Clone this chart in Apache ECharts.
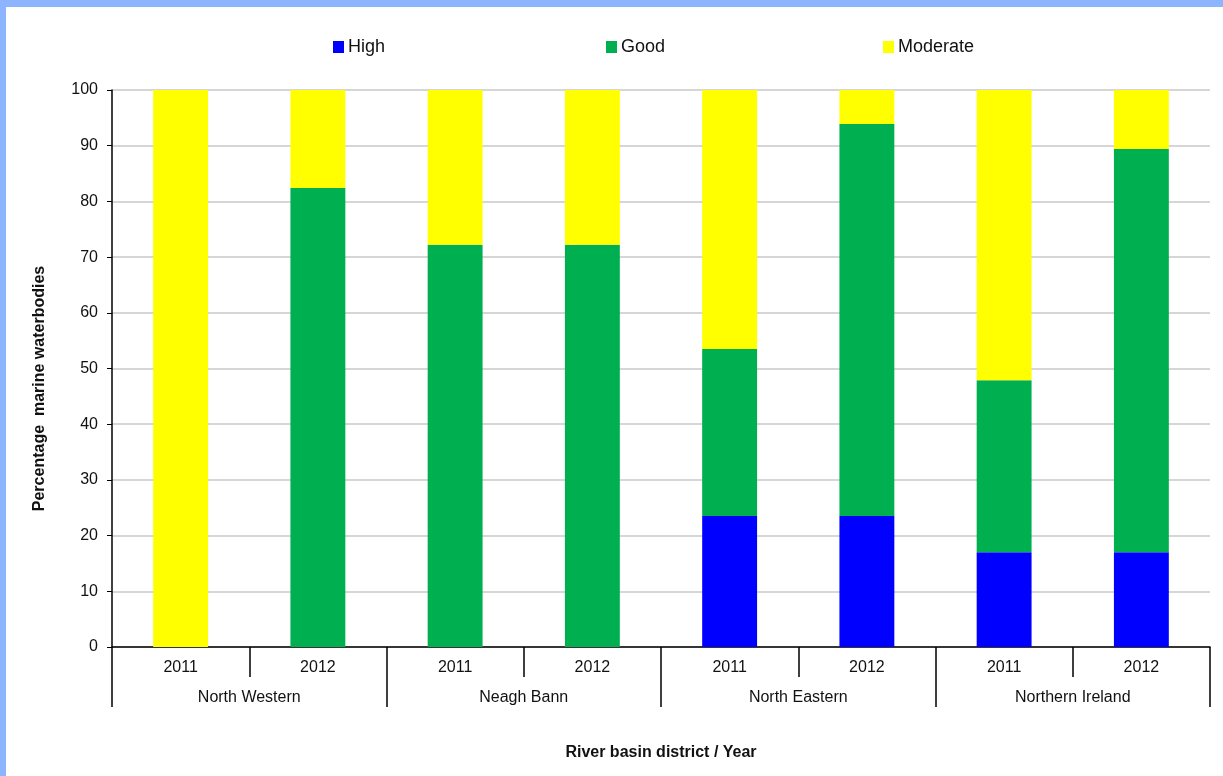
<!DOCTYPE html>
<html>
<head>
<meta charset="utf-8">
<script src="https://cdn.jsdelivr.net/npm/echarts@6/dist/echarts.min.js"></script>
<style>
html,body{margin:0;padding:0;background:#8CB4FF;}
#wrap{position:absolute;left:6px;top:7px;width:1217px;height:769px;background:#fff;}
#chart{width:1217px;height:769px;}
</style>
</head>
<body>
<div id="wrap"><div id="chart"></div></div>
<script>
var years = ['2011','2012','2011','2012','2011','2012','2011','2012'];
var districts = ['North Western','Neagh Bann','North Eastern','Northern Ireland'];
var high = [0, 0, 0, 0, 23.5, 23.5, 17.0, 17.0];
var good = [0, 82.4, 72.2, 72.2, 30.0, 70.4, 30.9, 72.4];
var moderate = [100, 17.6, 27.8, 27.8, 46.5, 6.1, 52.1, 10.6];
var yTicks = [0,10,20,30,40,50,60,70,80,90,100];

var chart = echarts.init(document.getElementById('chart'));
var font = 'Liberation Sans, Arial, sans-serif';
function legendItem(name, left){
  return {data:[name], left:left, top:26, itemWidth:11, itemHeight:12, itemGap:0, icon:'rect',
    textStyle:{fontSize:18, color:'#111', fontFamily:font, padding:[0,0,0,-1]}};
}
chart.setOption({
  animation:false,
  textStyle:{fontFamily:font},
  legend:[legendItem('High',322), legendItem('Good',595), legendItem('Moderate',872)],
  grid:{left:106, right:13, top:83, bottom:129},
  xAxis:[{
    type:'category', data:years, position:'bottom',
    axisLine:{lineStyle:{color:'#000', width:1.5}},
    axisTick:{show:true, interval:0, length:30, lineStyle:{color:'#000', width:1.5}},
    axisLabel:{interval:0, fontSize:16, color:'#111', margin:13}
  },{
    type:'category', data:districts, position:'bottom', offset:30,
    axisLine:{show:false},
    axisTick:{show:true, interval:0, length:30, lineStyle:{color:'#000', width:1.5}},
    axisLabel:{interval:0, fontSize:16, color:'#111', margin:13},
    name:'River basin district / Year', nameLocation:'middle', nameGap:68,
    nameTextStyle:{fontSize:16, fontWeight:'bold', color:'#111'}
  }],
  yAxis:{
    type:'value', min:0, max:100, interval:10,
    axisLine:{show:true, lineStyle:{color:'#000', width:1.5}},
    axisTick:{show:true, length:5, inside:false, lineStyle:{color:'#000'}},
    axisLabel:{fontSize:16, color:'#111', margin:14,
      formatter:function(v){ return yTicks.indexOf(v) >= 0 ? String(v) : ''; }},
    splitLine:{lineStyle:{color:'#c8c8c8', width:1.5}},
    name:'Percentage  marine waterbodies', nameLocation:'middle', nameGap:64,
    nameTextStyle:{fontSize:16, fontWeight:'bold', color:'#111', padding:[0,40,0,0]}
  },
  series:[
    {name:'High', type:'bar', stack:'s', data:high, barWidth:'40%', itemStyle:{color:'#0000FF'}},
    {name:'Good', type:'bar', stack:'s', data:good, barWidth:'40%', itemStyle:{color:'#00AF50'}},
    {name:'Moderate', type:'bar', stack:'s', data:moderate, barWidth:'40%', itemStyle:{color:'#FFFF00'}}
  ]
});
</script>
</body>
</html>
